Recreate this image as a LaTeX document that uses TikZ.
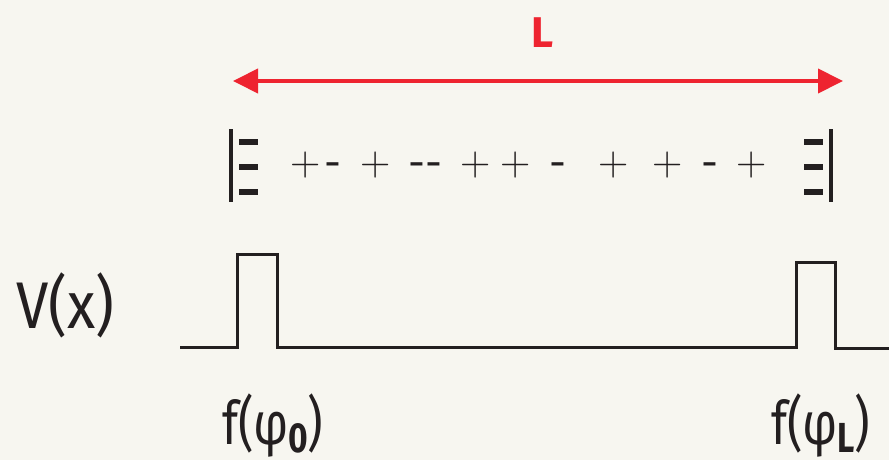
\documentclass[tikz,border=0pt]{standalone}
\usepackage{fontspec}
\newfontfamily\labelfont{Fira Sans}
\usetikzlibrary{arrows.meta}
\definecolor{bgc}{HTML}{F7F6F0}
\definecolor{inkc}{HTML}{231F20}
\definecolor{redc}{HTML}{EE2430}
\tikzset{
  signlabel/.style={anchor=base, inner sep=0pt, text=inkc, font=\fontsize{42}{42}\selectfont},
  minuslabel/.style={anchor=base, inner sep=0pt, text=inkc, font=\labelfont\fontsize{42}{42}\selectfont},
  bigtext/.style={inner sep=0pt, text=inkc, transform shape},
  platebar/.style={draw=inkc, line width=4pt},
  platedash/.style={draw=inkc, line width=6pt},
  wave/.style={draw=inkc, line width=3pt, line join=miter},
  lenarrow/.style={draw=redc, line width=4pt, {Triangle[length=25pt,width=24pt]}-{Triangle[length=25pt,width=24pt]}}
}
\newcommand{\subbold}[1]{\kern-1pt\raisebox{-8pt}{\fontsize{42}{42}\selectfont\bfseries #1}}
\begin{document}
\begin{tikzpicture}[x=1pt,y=-1pt]
\fill[bgc] (0,0) rectangle (889,460);
\useasboundingbox (0,0) rectangle (889,460);

% length arrow
\coordinate (al) at (233,81);
\coordinate (ar) at (843,81);
\draw[lenarrow] (al) -- (ar);
\node[inner sep=0pt, text=redc, font=\labelfont\bfseries\fontsize{43}{43}\selectfont] (Llab) at (543,33) {L};

% plates
\draw[platebar] (231,129) -- (231,202);
\foreach \yy in {142,167,192} \draw[platedash] (239,\yy) -- (258,\yy);
\draw[platebar] (831,129) -- (831,202);
\foreach \yy in {142,167,192} \draw[platedash] (804,\yy) -- (823,\yy);

% charges
\node[signlabel] (c1) at (306,175) {+};
\node[minuslabel] (c2) at (333,177) {-};
\node[signlabel] (c3) at (376,175) {+};
\node[minuslabel] (c4) at (417,177) {-};
\node[minuslabel] (c5) at (434,177) {-};
\node[signlabel] (c6) at (476,175) {+};
\node[signlabel] (c7) at (516,175) {+};
\node[minuslabel] (c8) at (558,177) {-};
\node[signlabel] (c9) at (614,175) {+};
\node[signlabel] (c10) at (668,175) {+};
\node[minuslabel] (c11) at (710,177) {-};
\node[signlabel] (c12) at (752,175) {+};

% potential
\draw[wave] (180,347) -- (237,347) -- (237,254) -- (277,254) -- (277,347)
  -- (796,347) -- (796,262) -- (835,262) -- (835,348.5) -- (889,348.5);

\node[bigtext, xscale=0.88, anchor=base west, font=\labelfont\fontsize{66}{66}\selectfont] (vx) at (16,328) {V(x)};
\node[bigtext, xscale=0.8, anchor=base west, font=\labelfont\fontsize{60}{60}\selectfont] (f0) at (222,444)
  {f(φ\subbold{0})};
\node[bigtext, xscale=0.8, anchor=base west, font=\labelfont\fontsize{60}{60}\selectfont] (fL) at (771,444)
  {f(φ\subbold{L})};
\end{tikzpicture}
\end{document}
